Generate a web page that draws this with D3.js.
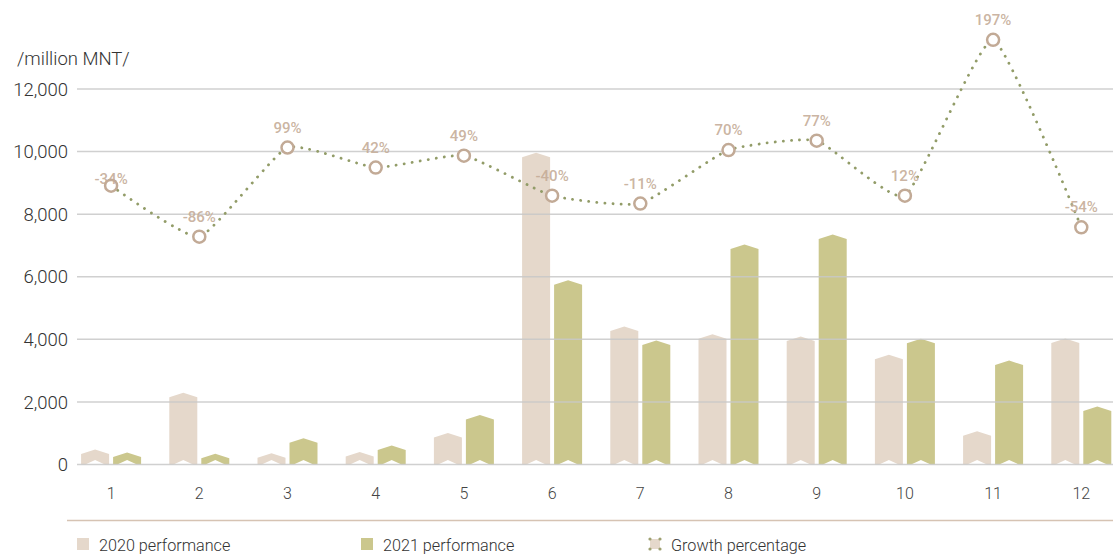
<!DOCTYPE html>
<html>
<head>
<meta charset="utf-8">
<script src="https://cdn.jsdelivr.net/npm/d3@7"></script>
<style>
  html, body { margin: 0; padding: 0; background: #fff; }
  svg { display: block; font-family: Roboto, "Open Sans", sans-serif; }
</style>
</head>
<body>
<div id="chart"></div>
<script>
const months = ["1", "2", "3", "4", "5", "6", "7", "8", "9", "10", "11", "12"];
const series = ["2020 performance", "2021 performance"];
const perf2020 = [480, 2290, 360, 400, 1010, 9960, 4410, 4160, 4090, 3510, 1060, 4030];
const perf2021 = [380, 340, 840, 610, 1580, 5890, 3960, 7030, 7350, 4020, 3320, 1850];
const growthLabels = ["-34%", "-86%", "99%", "42%", "49%", "-40%", "-11%", "70%", "77%", "12%", "197%", "-54%"];
// marker level of the growth line, read in the left axis units
const growthLevel = [8910, 7280, 10130, 9490, 9870, 8590, 8340, 10050, 10350, 8590, 13570, 7580];
const yTicks = [0, 2000, 4000, 6000, 8000, 10000, 12000];

const width = 1113, height = 557;
const colors = { "2020 performance": "#e5d8cb", "2021 performance": "#cbc78d" };

const svg = d3.select("#chart").append("svg")
    .attr("width", width)
    .attr("height", height);

const x = d3.scaleBand().domain(months).range([67, 1125.4]);
const x1 = d3.scaleBand().domain(series).range([-30, 30]).paddingInner(0.125);
const y = d3.scaleLinear().domain([0, 12000]).range([464.5, 89]);

// unit label
svg.append("text")
    .attr("x", 17).attr("y", 65)
    .attr("font-size", 18.5).attr("font-weight", 300)
    .attr("fill", "#333")
    .text("/million MNT/");

// y tick labels
svg.append("g").selectAll("text")
    .data(yTicks).enter()
    .append("text")
      .attr("x", 68)
      .attr("y", function(d) { return y(d); })
      .attr("dy", "0.36em")
      .attr("text-anchor", "end")
      .attr("font-size", 18.5).attr("font-weight", 300)
      .attr("fill", "#333")
      .text(function(d) { return d3.format(",")(d); });

// bars with chevron ends
const notch = 4.5;
function barPath(x0, w, top, base) {
    const h = Math.min(notch, (base - top) / 2);
    return `M${x0},${base}L${x0 + w * 0.15},${base}L${x0 + w / 2},${base - h}L${x0 + w * 0.85},${base}L${x0 + w},${base}` +
        `L${x0 + w},${top + h}L${x0 + w / 2},${top}L${x0},${top + h}Z`;
}

const barData = [];
months.forEach(function(m, i) {
    barData.push({ month: m, key: series[0], value: perf2020[i] });
    barData.push({ month: m, key: series[1], value: perf2021[i] });
});

svg.append("g").selectAll("path")
    .data(barData).enter()
    .append("path")
      .attr("d", function(d) {
          const x0 = x(d.month) + x.bandwidth() / 2 + x1(d.key);
          return barPath(x0, x1.bandwidth(), y(d.value), y(0));
      })
      .attr("fill", function(d) { return colors[d.key]; });

// gridlines drawn over the bars
svg.append("g").selectAll("line")
    .data(yTicks).enter()
    .append("line")
      .attr("x1", 77).attr("x2", width)
      .attr("y1", function(d) { return y(d); })
      .attr("y2", function(d) { return y(d); })
      .attr("stroke", "#c8c8c8")
      .attr("stroke-opacity", 0.85)
      .attr("stroke-width", 1.5);

// x tick labels
svg.append("g").selectAll("text")
    .data(months).enter()
    .append("text")
      .attr("x", function(d) { return x(d) + x.bandwidth() / 2; })
      .attr("y", 499)
      .attr("text-anchor", "middle")
      .attr("font-size", 16).attr("font-weight", 300)
      .attr("fill", "#444")
      .text(function(d) { return d; });

// bottom rule
svg.append("line")
    .attr("x1", 67).attr("x2", width)
    .attr("y1", 520.5).attr("y2", 520.5)
    .attr("stroke", "#d6c3b3")
    .attr("stroke-width", 1.5);

// growth line
const pts = months.map(function(m, i) {
    return { month: m, level: growthLevel[i], label: growthLabels[i] };
});
const line = d3.line()
    .x(function(d) { return x(d.month) + x.bandwidth() / 2; })
    .y(function(d) { return y(d.level); })
    .curve(d3.curveCardinal.tension(0.55));

svg.append("path")
    .datum(pts)
    .attr("d", line)
    .attr("fill", "none")
    .attr("stroke", "#929c68")
    .attr("stroke-width", 2.8)
    .attr("stroke-linecap", "round")
    .attr("stroke-dasharray", "0.1 8");

svg.append("g").selectAll("circle")
    .data(pts).enter()
    .append("circle")
      .attr("cx", function(d) { return x(d.month) + x.bandwidth() / 2; })
      .attr("cy", function(d) { return y(d.level); })
      .attr("r", 6)
      .attr("fill", "#fff")
      .attr("stroke", "#c2aa96")
      .attr("stroke-width", 2.5);

svg.append("g").selectAll("text")
    .data(pts).enter()
    .append("text")
      .attr("x", function(d) { return x(d.month) + x.bandwidth() / 2; })
      .attr("y", function(d, i) { return y(d.level) + (i === 0 ? -2 : -15); })
      .attr("text-anchor", "middle")
      .attr("font-size", 15).attr("font-weight", 500)
      .attr("fill", "#c4ab96")
      .attr("fill-opacity", 0.9)
      .text(function(d) { return d.label; });

// legend
const legend = svg.append("g");
const legendItems = [
    { name: series[0], x: 77 },
    { name: series[1], x: 361 },
    { name: "Growth percentage", x: 649 }
];
legendItems.forEach(function(item, i) {
    const g = legend.append("g").attr("transform", `translate(${item.x},538)`);
    if (i < 2) {
        g.append("rect").attr("width", 12).attr("height", 12).attr("fill", colors[item.name]);
    } else {
        g.append("rect").attr("x", 1).attr("y", 1).attr("width", 10).attr("height", 10).attr("fill", "#e5d8cb");
        [[1, 1], [11, 1], [1, 11], [11, 11]].forEach(function(p) {
            g.append("circle").attr("cx", p[0]).attr("cy", p[1]).attr("r", 1.6).attr("fill", "#9ea071");
        });
    }
    g.append("text")
        .attr("x", 22).attr("y", 13)
        .attr("font-size", 16.2).attr("font-weight", 300)
        .attr("fill", "#333")
        .text(item.name);
});
</script>
</body>
</html>
